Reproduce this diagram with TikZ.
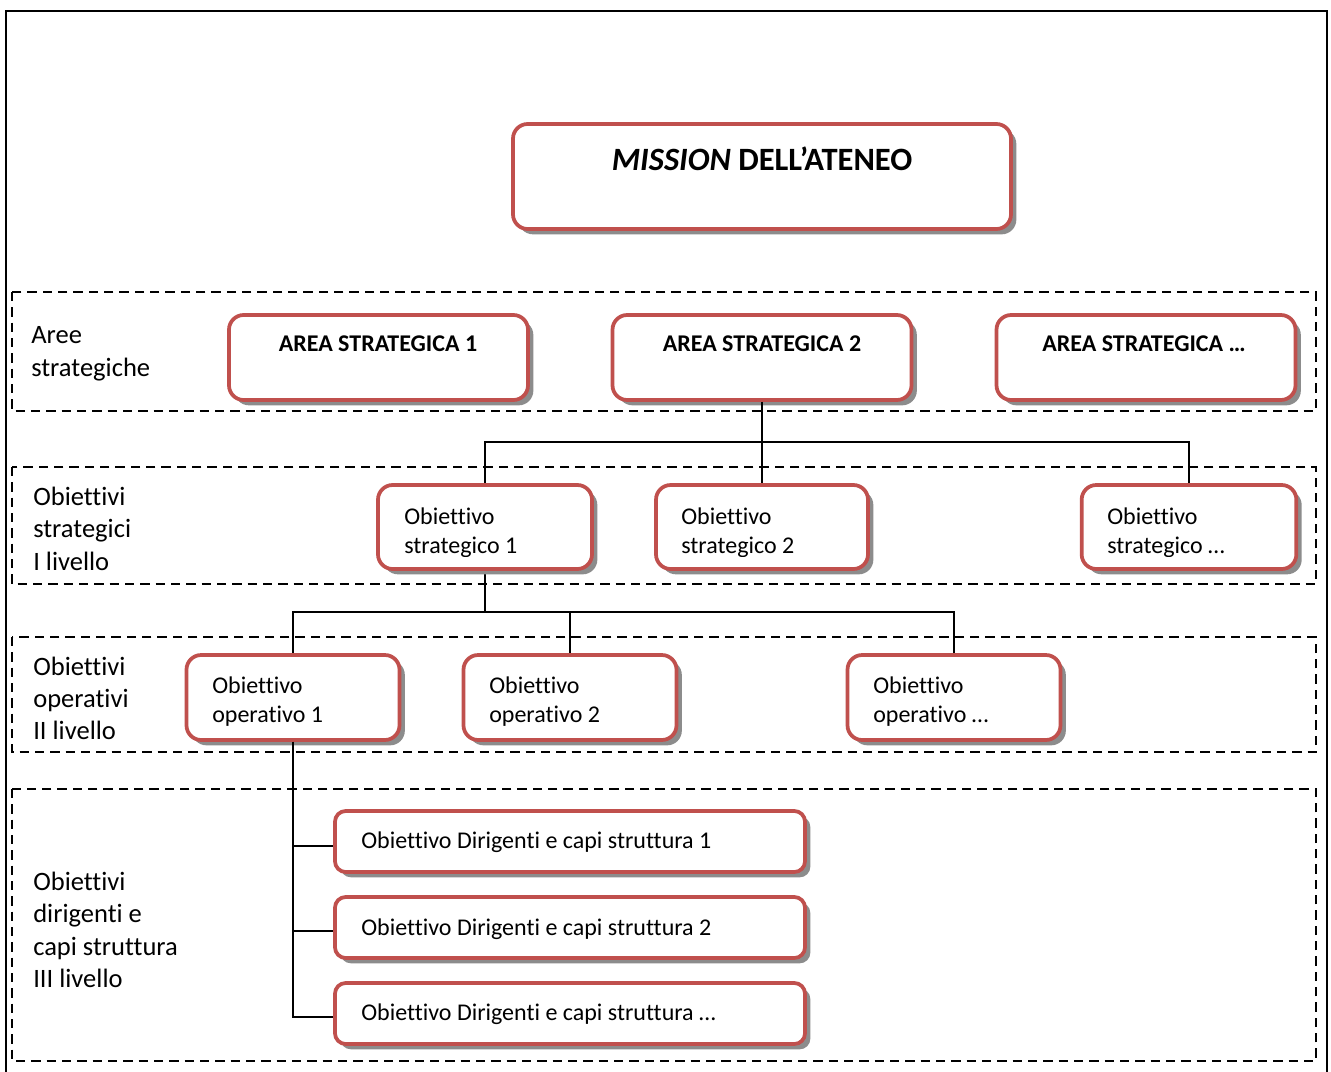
\documentclass[tikz,border=0pt]{standalone}
\usepackage{fontspec}
\setmainfont{Carlito}[Ligatures=NoCommon]
\usetikzlibrary{shadows}
\definecolor{boxred}{RGB}{192,80,77}
\begin{document}
\begin{tikzpicture}[x=0.75pt,y=-0.75pt,
 rbox/.style={draw=boxred, line width=2.8pt, fill=white, rounded corners=11pt, inner sep=0pt,
   drop shadow={shadow xshift=4pt, shadow yshift=-4pt, fill=black!45, opacity=1}},
 band/.style={draw=black, line width=1.9pt, dash pattern=on 7pt off 4.5pt},
 conn/.style={draw=black, line width=1.9pt},
 lbl/.style={anchor=base west, inner sep=0pt, font=\fontsize{19.9}{24}\selectfont},
 btxt/.style={anchor=base west, inner sep=0pt, font=\fontsize{18}{22}\selectfont},
 atxt/.style={anchor=base, inner sep=0pt, font=\bfseries\fontsize{18}{22}\selectfont}]
\fill[white] (0,0) rectangle (1331,1071);
\useasboundingbox (0,0) rectangle (1331,1071);
\clip (0,0) rectangle (1331,1071);
% outer frame
\draw[line width=1.9pt] (6,11) rectangle (1327,1090);
% dashed bands
\draw[band] (12,292) rectangle (1316,411);
\draw[band] (12,467) rectangle (1316,584);
\draw[band] (12,637) rectangle (1316,752);
\draw[band] (12,789) rectangle (1316,1061);
% junction coordinates
\coordinate (j1) at (762,442);
\coordinate (j2) at (485,612);
% top boxes
\node[rbox, minimum width=373.5pt, minimum height=78.75pt] (m) at (762,176.5) {};
\node[rbox, minimum width=224.25pt, minimum height=63.75pt] (a1) at (378.5,357.5) {};
\node[rbox, minimum width=224.25pt, minimum height=63.75pt] (a2) at (762,357.5) {};
\node[rbox, minimum width=224.25pt, minimum height=63.75pt] (a3) at (1146,357.5) {};
% box centres
\coordinate (s1c) at (485,527);
\coordinate (s2c) at (762,527);
\coordinate (s3c) at (1189,527);
\coordinate (o1c) at (293,697.5);
\coordinate (o2c) at (570,697.5);
\coordinate (o3c) at (954,697.5);
% connectors
\draw[conn] (a2.south) -- (j1);
\draw[conn] (j1) -- (s2c);
\draw[conn] (s1c) |- (j1) -| (s3c);
\draw[conn] (s1c) -- (j2);
\draw[conn] (o1c) |- (j2) -| (o3c);
\draw[conn] (j2 -| o2c) -- (o2c);
% level I boxes
\node[rbox, minimum width=160.5pt, minimum height=63pt] (s1) at (s1c) {};
\node[rbox, minimum width=159pt, minimum height=63pt] (s2) at (s2c) {};
\node[rbox, minimum width=161pt, minimum height=63pt] (s3) at (s3c) {};
% level II boxes
\node[rbox, minimum width=159.75pt, minimum height=63.75pt] (o1) at (o1c) {};
\node[rbox, minimum width=159.75pt, minimum height=63.75pt] (o2) at (o2c) {};
\node[rbox, minimum width=159.75pt, minimum height=63.75pt] (o3) at (o3c) {};
% level III boxes
\draw[conn] (o1.south) |- (335,846) coordinate (d1w);
\draw[conn] (o1.south) |- (335,931) coordinate (d2w);
\draw[conn] (o1.south) |- (335,1017) coordinate (d3w);
\node[rbox, rounded corners=8pt, minimum width=352.5pt, minimum height=45.75pt] (d1) at (570,841.5) {};
\node[rbox, rounded corners=8pt, minimum width=352.5pt, minimum height=45.75pt] (d2) at (570,927.5) {};
\node[rbox, rounded corners=8pt, minimum width=352.5pt, minimum height=45.75pt] (d3) at (570,1013.5) {};
% texts in boxes
\node[anchor=base, inner sep=0pt, font=\bfseries\fontsize{24.4}{29}\selectfont] (mt) at (762,170) {\textit{MISSION} DELL’ATENEO};
\node[atxt] (a1t) at (378,351) {AREA STRATEGICA 1};
\node[atxt] (a2t) at (762,351) {AREA STRATEGICA 2};
\node[atxt] (a3t) at (1144,351) {AREA STRATEGICA …};
\begin{scope}
\clip (0,0) rectangle (1331,556);
\node[btxt] (s1t1) at (404,524) {Obiettivo};
\node[btxt] (s1t2) at (404,553) {strategico 1};
\node[btxt] (s2t1) at (681,524) {Obiettivo};
\node[btxt] (s2t2) at (681,553) {strategico 2};
\node[btxt] (s3t1) at (1107,524) {Obiettivo};
\node[btxt] (s3t2) at (1107,553) {strategico …};
\end{scope}
\begin{scope}
\clip (0,0) rectangle (1331,725);
\node[btxt] (o1t1) at (212,693) {Obiettivo};
\node[btxt] (o1t2) at (212,722) {operativo 1};
\node[btxt] (o2t1) at (489,693) {Obiettivo};
\node[btxt] (o2t2) at (489,722) {operativo 2};
\node[btxt] (o3t1) at (873,693) {Obiettivo};
\node[btxt] (o3t2) at (873,722) {operativo …};
\end{scope}
\node[btxt] (d1t) at (361,848) {Obiettivo Dirigenti e capi struttura 1};
\node[btxt] (d2t) at (361,935) {Obiettivo Dirigenti e capi struttura 2};
\node[btxt] (d3t) at (361,1020) {Obiettivo Dirigenti e capi struttura …};
% level labels
\node[lbl] (l1a) at (31,343) {Aree};
\node[lbl] (l1b) at (31,376) {strategiche};
\node[lbl] (l2a) at (33,505) {Obiettivi};
\node[lbl] (l2b) at (33,537.5) {strategici};
\node[lbl] (l2c) at (33,570) {I livello};
\node[lbl] (l3a) at (33,675) {Obiettivi};
\node[lbl] (l3b) at (33,707) {operativi};
\node[lbl] (l3c) at (33,739) {II livello};
\node[lbl] (l4a) at (33,890) {Obiettivi};
\node[lbl] (l4b) at (33,922) {dirigenti e};
\node[lbl] (l4c) at (33,955) {capi struttura};
\node[lbl] (l4d) at (33,987) {III livello};
\end{tikzpicture}
\end{document}
